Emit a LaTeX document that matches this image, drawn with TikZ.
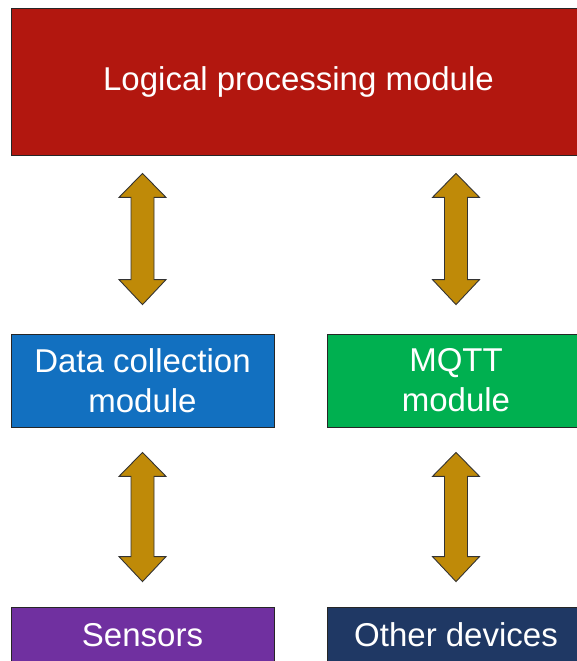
\documentclass[tikz,border=0pt]{standalone}
\usepackage{fontspec}
\setmainfont{Liberation Sans}
\usetikzlibrary{calc}

\definecolor{logicred}{HTML}{B2170F}
\definecolor{collectblue}{HTML}{1270C0}
\definecolor{mqttgreen}{HTML}{00B050}
\definecolor{sensorpurple}{HTML}{7030A0}
\definecolor{devicenavy}{HTML}{1F3864}
\definecolor{arrowgold}{HTML}{BF8A08}

% two-headed block arrow from the point #1 down to the point #2
\newcommand\bidir[2]{%
  \draw[arrowbody] (#1)
    -- ([shift={(23.5,24)}]#1) -- ([shift={(11.5,24)}]#1)
    -- ([shift={(11.5,-25)}]#2) -- ([shift={(23.5,-25)}]#2)
    -- (#2)
    -- ([shift={(-23.5,-25)}]#2) -- ([shift={(-11.5,-25)}]#2)
    -- ([shift={(-11.5,24)}]#1) -- ([shift={(-23.5,24)}]#1)
    -- cycle;}

\begin{document}
\begin{tikzpicture}[x=1pt,y=-1pt,
  module/.style={draw=black!85,line width=0.8pt,text=white,inner sep=0pt,
    align=center,font=\fontsize{33}{40}\selectfont},
  arrowbody/.style={draw=black!80,line width=0.9pt,fill=arrowgold,line join=miter}]
  \useasboundingbox (0,0) rectangle (577,661);
  \clip (0,0) rectangle (577,661);

  % modules
  \node[module,fill=logicred,minimum width=575,minimum height=147]
    (logic) at (298.5,81.5) {Logical processing module};
  \node[module,fill=collectblue,minimum width=263,minimum height=93]
    (collect) at (142.5,380.5) {Data collection\\module};
  \node[module,fill=mqttgreen,minimum width=258,minimum height=93]
    (mqtt) at (456,380.5) {MQTT\\module};
  \node[module,fill=sensorpurple,minimum width=263,minimum height=56]
    (sensors) at (142.5,635) {Sensors};
  \node[module,fill=devicenavy,minimum width=258,minimum height=56]
    (devices) at (456,635) {Other devices};

  % arrow end points, taken from the modules they join
  % (yshift is in page direction: negative moves down)
  \coordinate (a1t) at ([yshift=-18]logic.south -| collect.north);
  \coordinate (a1b) at ([yshift=29]collect.north);
  \coordinate (a2t) at ([yshift=-18]logic.south -| mqtt.north);
  \coordinate (a2b) at ([yshift=29]mqtt.north);
  \coordinate (a3t) at ([yshift=-25]collect.south);
  \coordinate (a3b) at ([yshift=25]sensors.north);
  \coordinate (a4t) at ([yshift=-25]mqtt.south);
  \coordinate (a4b) at ([yshift=25]devices.north);

  \bidir{a1t}{a1b}
  \bidir{a2t}{a2b}
  \bidir{a3t}{a3b}
  \bidir{a4t}{a4b}
\end{tikzpicture}
\end{document}
